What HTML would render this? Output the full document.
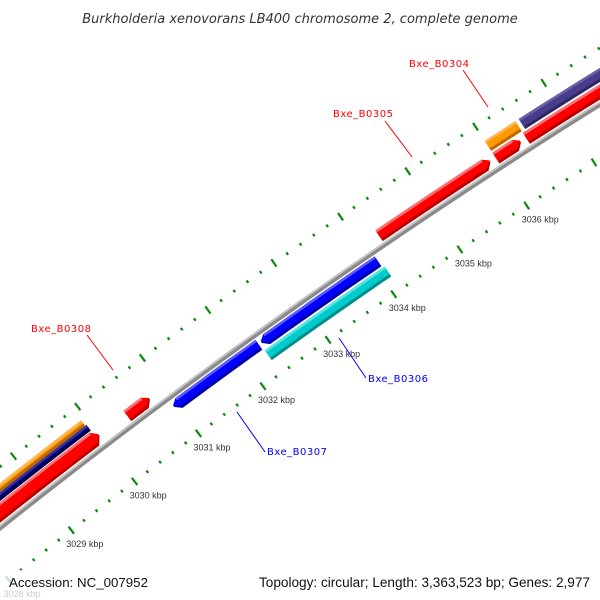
<!DOCTYPE html>
<html><head><meta charset="utf-8"><style>
html,body{margin:0;padding:0;background:#fff;overflow:hidden}
svg{display:block}
text{font-family:"Liberation Sans",sans-serif}
.lab{font-family:"DejaVu Sans","Liberation Sans",sans-serif;font-size:10px;letter-spacing:0.5px}
</style></head><body>
<svg id="map" width="600" height="600" viewBox="0 0 600 600" xmlns="http://www.w3.org/2000/svg">
<text x="300" y="23" text-anchor="middle" font-style="italic" font-size="13" fill="#333" style="font-family:'DejaVu Sans','Liberation Sans',sans-serif">Burkholderia xenovorans LB400 chromosome 2, complete genome</text>
<g id="ticks"></g>
<g id="backbone"></g>
<g id="feats"></g>
<g id="callouts">
<line x1="87" y1="335" x2="113" y2="370" stroke="#f00" stroke-width="1"/>
<text class="lab" x="31" y="332" fill="#f00">Bxe_B0308</text>
<line x1="237" y1="412" x2="265" y2="452" stroke="#00f" stroke-width="1"/>
<text class="lab" x="267" y="455" fill="#00f">Bxe_B0307</text>
<line x1="339" y1="338" x2="366" y2="378" stroke="#00f" stroke-width="1"/>
<text class="lab" x="368" y="382" fill="#00f">Bxe_B0306</text>
<line x1="385" y1="121" x2="412" y2="157" stroke="#f00" stroke-width="1"/>
<text class="lab" x="333" y="117" fill="#f00">Bxe_B0305</text>
<line x1="463" y1="70" x2="488" y2="107" stroke="#f00" stroke-width="1"/>
<text class="lab" x="409" y="67" fill="#f00">Bxe_B0304</text>
</g>
<rect x="0" y="570" width="600" height="30" fill="#fff" opacity="0.75"/>
<text x="9" y="587" font-size="13.3" fill="#111">Accession: NC_007952</text>
<text x="590" y="587" text-anchor="end" font-size="13.6" fill="#111">Topology: circular; Length: 3,363,523 bp; Genes: 2,977</text>
</svg>
<script>
const majorTicks=[3028,3029,3030,3031,3032,3033,3034,3035,3036];
const tickLabels=["3028 kbp","3029 kbp","3030 kbp","3031 kbp","3032 kbp","3033 kbp","3034 kbp","3035 kbp","3036 kbp"];
const featNames=["fwd-red-left","fwd-navy-left","fwd-orange-left","Bxe_B0308","Bxe_B0307","Bxe_B0306-blue","Bxe_B0306-cyan","Bxe_B0305","fwd-red-small","Bxe_B0304","fwd-red-right","fwd-purple-right"];
const featStart=[3027.0,3027.0,3027.0,3030.42,3030.95,3032.3,3032.28,3034.26,3036.0,3036.0,3036.45,3036.5];
const featEnd=[3030.0,3029.95,3029.93,3030.77,3032.26,3034.07,3034.1,3035.92,3036.37,3036.45,3040,3040];
const featColor=["red","navy","orange","red","blue","blue","cyan","red","red","orange","red","purple"];
const featLayer=["f1big","f2a","f3a","f1","r1","r1","r2","f1","f1","f2","f1","f2"];
const featArrow=["end","none","none","end","start","start","none","end","end","none","end","none"];

const NS="http://www.w3.org/2000/svg";
const A0=38*Math.PI/180,R=6450,PX=80.5,X0=43,Y0=494,K0=3029;
function pt(k,d){const s=(k-K0)*PX;const a=A0-s/R;
 let x=X0+R*(Math.sin(A0)-Math.sin(a)),y=Y0+R*(Math.cos(A0)-Math.cos(a));
 return [x-d*Math.sin(a),y-d*Math.cos(a)];}
const layers={f1:[4,17],f1big:[4,20],f2:[19,31],f2a:[21,28],f3a:[28,35],r1:[-4,-16],r2:[-18,-30]};
const palette={red:["#ff0000","#b80000","#ff7070"],blue:["#0000ff","#0000a8","#5a5aff"],cyan:["#00cccc","#008c8c","#55e5e5"],orange:["#ff9900","#c06800","#ffb84d"],navy:["#000080","#00004d","#3333a0"],purple:["#483d8b","#2f2760","#6a60a8"]};
function mk(tag,attrs,parent){const e=document.createElementNS(NS,tag);for(const k in attrs)e.setAttribute(k,attrs[k]);parent.appendChild(e);return e;}
function band(k0,k1,d0,d1){const pts=[];const n=12;
 for(let i=0;i<=n;i++)pts.push(pt(k0+(k1-k0)*i/n,d0));
 for(let i=n;i>=0;i--)pts.push(pt(k0+(k1-k0)*i/n,d1));
 return pts.map(p=>p[0].toFixed(1)+","+p[1].toFixed(1)).join(" ");}
function arrowPoly(k0,k1,d0,d1,arrow){const h=0.08;const pts=[];const n=12;
 let a0=k0,a1=k1;if(arrow==="end")a1=k1-h;if(arrow==="start")a0=k0+h;
 const mid=(d0+d1)/2;
 if(arrow==="start")pts.push(pt(k0,mid));
 for(let i=0;i<=n;i++)pts.push(pt(a0+(a1-a0)*i/n,d0));
 if(arrow==="end")pts.push(pt(k1,mid));
 for(let i=n;i>=0;i--)pts.push(pt(a0+(a1-a0)*i/n,d1));
 return pts.map(p=>p[0].toFixed(1)+","+p[1].toFixed(1)).join(" ");}

const bb=document.getElementById('backbone');
const bpts=[];for(let k=3026.5;k<=3039.5;k+=0.25)bpts.push(pt(k,0));
const bline=mk('polyline',{points:bpts.map(p=>p.join(",")).join(" "),fill:"none",stroke:"#8a8a8a","stroke-width":"5"},bb);


const hpts=[];for(let k=3026.5;k<=3039.5;k+=0.25)hpts.push(pt(k,1.5));
const hl=mk('polyline',{points:hpts.map(p=>p.join(",")).join(" "),fill:"none",stroke:"#c8c8c8","stroke-width":"1.5"},bb);



const tg=document.getElementById('ticks');
[48,-46].forEach((ring)=>{
 for(let k=3026.6;k<=3039.4;k+=0.2){
  const kk=Math.round(k*5)/5;const major=Math.abs(kk-Math.round(kk))<1e-6;
  const len=major?4.5:1.5;
  const p1=pt(kk,ring-len),p2=pt(kk,ring+len);
  const t=mk('line',{x1:p1[0],y1:p1[1],x2:p2[0],y2:p2[1],stroke:"#0a8a0a","stroke-width":"2.2"},tg);
  
  
 }});
majorTicks.forEach((k,i)=>{const p=pt(k,-46);
 const t=mk('text',{x:(p[0]-5).toFixed(1),y:(p[1]+17).toFixed(1),"font-size":"9",fill:"#333"},tg);
 t.textContent=tickLabels[i];
 
 });

const fg=document.getElementById('feats');
featNames.forEach((nm,i)=>{const L=layers[featLayer[i]];const c=palette[featColor[i]];
 const g=mk('g',{},fg);
 
 
 const k0=featStart[i],k1=featEnd[i];
 const lo=Math.min(L[0],L[1]),hi=Math.max(L[0],L[1]);
 mk('polygon',{points:arrowPoly(k0,k1,lo,hi,featArrow[i]),fill:c[1]},g);
 mk('polygon',{points:arrowPoly(k0,k1,lo+3,hi,featArrow[i]),fill:c[0]},g);
 const h=0.08;let a0=k0,a1=k1;if(featArrow[i]==="end")a1=k1-h;if(featArrow[i]==="start")a0=k0+h;
 mk('polygon',{points:band(a0,a1,hi-2.5,hi),fill:c[2]},g);
});
</script>
</body></html>
